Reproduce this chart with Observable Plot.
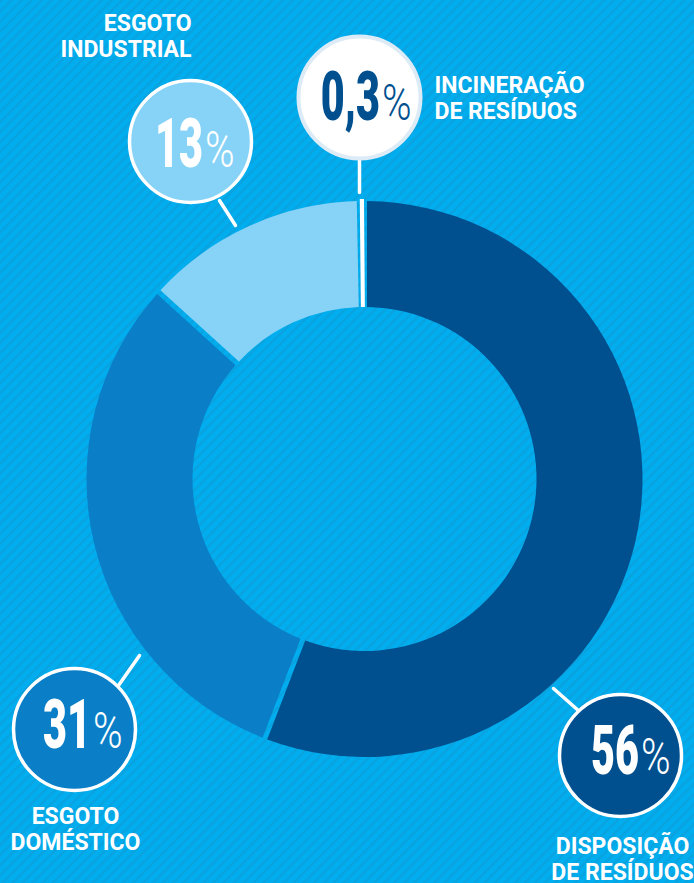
<!DOCTYPE html>
<html>
<head>
<meta charset="utf-8">
<script src="https://cdn.jsdelivr.net/npm/d3@7"></script>
<script src="https://cdn.jsdelivr.net/npm/@observablehq/plot@0.6"></script>
<style>
  html, body { margin: 0; padding: 0; background: #00aeef; }
  #chart svg { display: block; }
</style>
</head>
<body>
<div id="chart"></div>
<script>
// ---- data ----
const categories = ["Disposição de resíduos", "Esgoto doméstico", "Esgoto industrial", "Incineração de resíduos"];
const labelText = ["DISPOSIÇÃO\nDE RESÍDUOS", "ESGOTO\nDOMÉSTICO", "ESGOTO\nINDUSTRIAL", "INCINERAÇÃO\nDE RESÍDUOS"];
const values = [56, 31, 13, 0.3];
const valueLabels = ["56", "31", "13", "0,3"];

// ---- styles ----
const sliceColors = ["#00508f", "#0a7fc8", "#87d3f7", "#ffffff"];
const numberColors = ["#ffffff", "#ffffff", "#ffffff", "#00508f"];
const labelFont = {size: 23, lineHeight: 1.17};

// ---- layout (pixel-space coordinates of annotations) ----
const W = 694, H = 883;
const ring = {cx: 364.5, cy: 479, outer: 278, inner: 172, gap: 5};
const bubbleLayout = [
  {cx: 620, cy: 755, split: 639, base: 774, lx1: 553, ly1: 688, lx2: 579, ly2: 711, tx: 622, tb: 853, anchor: "middle"},
  {cx: 74, cy: 729, split: 91, base: 748, lx1: 118, ly1: 685, lx2: 139, ly2: 655, tx: 75, tb: 823, anchor: "middle"},
  {cx: 190, cy: 141, split: 203, base: 167, lx1: 219, ly1: 200, lx2: 235, ly2: 225, tx: 191, tb: 30, anchor: "end"},
  {cx: 359, cy: 97, split: 380, base: 120, lx1: 359, ly1: 160, lx2: 359, ly2: 192, tx: 434, tb: 92, anchor: "start"}
];

const rows = categories.map((c, i) => ({
  category: c, value: values[i], label: valueLabels[i], text: labelText[i],
  ...bubbleLayout[i],
  ty: bubbleLayout[i].tb - 0.71 * labelFont.lineHeight * labelFont.size,
  numberColor: numberColors[i]
}));

// background with diagonal stripes
function background(index, scales, values, dims) {
  const g = d3.create("svg:g");
  const defs = g.append("defs");
  const s = 7.1;
  const p = defs.append("pattern")
    .attr("id", "stripes").attr("patternUnits", "userSpaceOnUse")
    .attr("width", s).attr("height", s)
    .attr("patternTransform", "rotate(45)");
  p.append("rect").attr("width", s).attr("height", s).attr("fill", "#00aeef");
  p.append("rect").attr("x", 0).attr("width", 2.4).attr("height", s).attr("fill", "#0aa2df");
  g.append("rect").attr("x", 0).attr("y", 0).attr("width", dims.width).attr("height", dims.height)
    .attr("fill", "url(#stripes)");
  return g.node();
}

// donut slices from the data via d3.pie and Plot's scales
function donut(index, scales) {
  const {x, y, color} = scales;
  const cx = x(ring.cx), cy = y(ring.cy);
  const R = x(ring.cx + ring.outer) - cx;
  const r0 = x(ring.cx + ring.inner) - cx;
  const arcs = d3.pie().sort(null).value(d => d.value)(rows);
  const arc = d3.arc().innerRadius(r0).outerRadius(R).padAngle(ring.gap / R).padRadius(R);
  const g = d3.create("svg:g").attr("transform", `translate(${cx},${cy})`);
  arcs.forEach(a => {
    const small = a.endAngle - a.startAngle < 2 * ring.gap / R;
    g.append("path").attr("d", arc(a))
      .attr("fill", color(a.data.category))
      .attr("stroke", small ? color(a.data.category) : "none")
      .attr("stroke-width", small ? 4 : 0)
      .attr("stroke-linejoin", "miter");
  });
  return g.node();
}

// big percentage numbers (condensed look)
function bigNumbers(index, {x, y}) {
  const g = d3.create("svg:g");
  rows.forEach(d => {
    const sx = x(d.split), sy = y(d.base);
    g.append("text")
      .attr("transform", `translate(${sx},${sy}) scale(0.6,1)`)
      .attr("text-anchor", "end")
      .attr("font-family", "Roboto, 'DejaVu Sans', sans-serif")
      .attr("font-weight", 900).attr("font-size", 69)
      .attr("fill", d.numberColor).text(d.label);
    g.append("text")
      .attr("transform", `translate(${sx + 2},${sy}) scale(0.8,1)`)
      .attr("text-anchor", "start")
      .attr("font-family", "Roboto, 'DejaVu Sans', sans-serif")
      .attr("font-weight", 300).attr("font-size", 50)
      .attr("fill", d.numberColor).text("%");
  });
  return g.node();
}

const labelMark = anchor => Plot.text(rows.filter(d => d.anchor === anchor), {
  x: "tx", y: "ty", text: "text", textAnchor: anchor,
  lineAnchor: "top", lineHeight: labelFont.lineHeight,
  fill: "#ffffff", fontSize: labelFont.size, fontWeight: 700,
  fontFamily: "Roboto, 'DejaVu Sans', sans-serif"
});

const chart = Plot.plot({
  width: W, height: H, margin: 0,
  style: {background: "#00aeef", overflow: "visible"},
  x: {domain: [0, W], range: [0, W], axis: null},
  y: {domain: [0, H], range: [0, H], axis: null},
  color: {domain: categories, range: sliceColors},
  marks: [
    background,
    donut,
    Plot.link(rows, {x1: "lx1", y1: "ly1", x2: "lx2", y2: "ly2", stroke: "#ffffff", strokeWidth: 3.5, strokeLinecap: "round"}),
    Plot.dot(rows.slice(0, 3), {x: "cx", y: "cy", r: 61, fill: "category", stroke: "#ffffff", strokeWidth: 3.5}),
    Plot.dot(rows.slice(3), {x: "cx", y: "cy", r: 61, fill: "category", stroke: "#dcebf6", strokeWidth: 4}),
    bigNumbers,
    labelMark("middle"),
    labelMark("end"),
    labelMark("start")
  ]
});
document.getElementById("chart").appendChild(chart);
</script>
</body>
</html>
